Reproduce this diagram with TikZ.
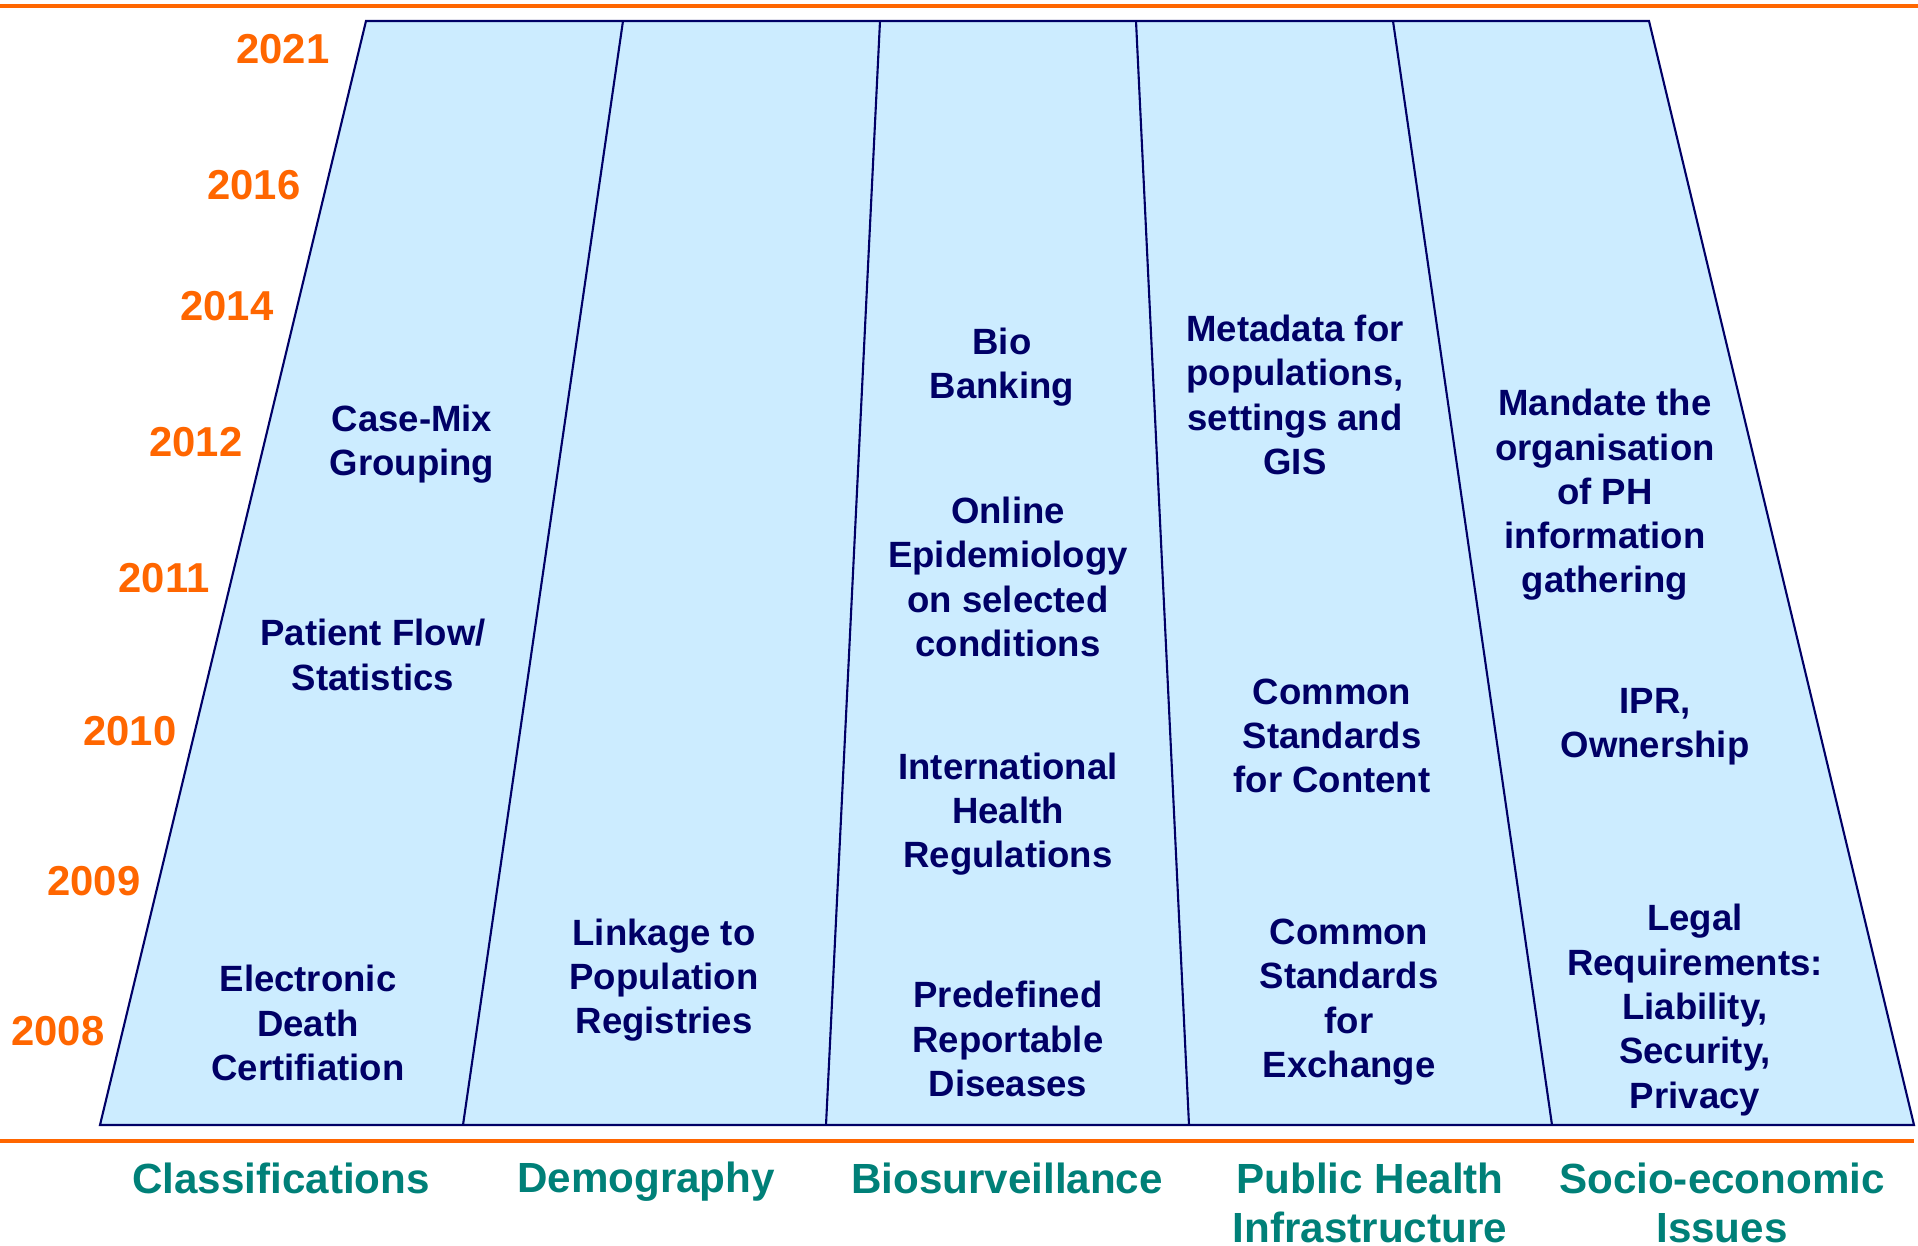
\documentclass[tikz,border=0pt]{standalone}
\usepackage{fontspec}
\setmainfont{Liberation Sans}
\usepackage{tikz}
\usetikzlibrary{positioning}

\definecolor{lane}{RGB}{204,236,255}
\definecolor{navy}{RGB}{0,0,102}
\definecolor{year}{RGB}{255,102,0}
\definecolor{field}{RGB}{0,128,120}

\tikzstyle{item} = [text=navy, align=center, inner sep=0pt, font=\bfseries\fontsize{10.4}{12.6}\selectfont]
\tikzstyle{yearlabel} = [text=year, anchor=east, inner sep=0pt, font=\bfseries\fontsize{11.9}{14}\selectfont]
\tikzstyle{fieldlabel} = [text=field, align=center, inner sep=0pt, font=\bfseries\fontsize{12}{13.9}\selectfont]
\tikzstyle{rule} = [year, line width=1.1pt]
\tikzstyle{border} = [navy, line width=0.6pt]

\begin{document}
\begin{tikzpicture}[x=0.1mm, y=-0.1mm]
    \useasboundingbox (0,0) rectangle (1918,1246);

    % corners of the lanes
    \coordinate (t0) at (366,21);   \coordinate (b0) at (100,1125);
    \coordinate (t1) at (623,21);   \coordinate (b1) at (463,1125);
    \coordinate (t2) at (880,21);   \coordinate (b2) at (826,1125);
    \coordinate (t3) at (1136,21);  \coordinate (b3) at (1189,1125);
    \coordinate (t4) at (1393,21);  \coordinate (b4) at (1552,1125);
    \coordinate (t5) at (1649,21);  \coordinate (b5) at (1914,1125);

    % orange rules
    \draw[rule] (0,6) -- (1918,6);
    \draw[rule] (0,1141) -- (1914,1141);

    % lanes
    \fill[lane] (t0) -- (t5) -- (b5) -- (b0) -- cycle;
    \draw[border] (t0) -- (t5) -- (b5) -- (b0) -- cycle;
    \draw[border] (t1) -- (b1);
    \draw[border] (t2) -- (b2);
    \draw[border] (t3) -- (b3);
    \draw[border] (t4) -- (b4);

    % years
    \node (y21) [yearlabel] at (330,49) {2021};
    \node (y16) [yearlabel] at (301,185) {2016};
    \node (y14) [yearlabel] at (274,306) {2014};
    \node (y12) [yearlabel] at (243,442) {2012};
    \node (y11) [yearlabel] at (210,578) {2011};
    \node (y10) [yearlabel] at (177,731) {2010};
    \node (y09) [yearlabel] at (141,881) {2009};
    \node (y08) [yearlabel] at (105,1031) {2008};

    % classifications
    \node (CM) [item] at (412,444) {Case-Mix\\Grouping};
    \node (PF) [item] at (373,655) {Patient Flow/\\Statistics};
    \node (EDC) [item] at (308,1023) {Electronic\\Death\\Certifiation};

    % demography
    \node (LPR) [item] at (664,980) {Linkage to\\Population\\Registries};

    % biosurveillance
    \node (BB) [item] at (1002,367) {Bio\\Banking};
    \node (OE) [item] at (1008,577) {Online\\Epidemiology\\on selected\\conditions};
    \node (IHR) [item] at (1008,814) {International\\Health\\Regulations};
    \node (PRD) [item] at (1008,1039) {Predefined\\Reportable\\Diseases};

    % public health infrastructure
    \node (MD) [item] at (1295,395) {Metadata for\\populations,\\settings and\\GIS};
    \node (CSC) [item] at (1332,736) {Common\\Standards\\for Content};
    \node (CSE) [item] at (1349,1002) {Common\\Standards\\for\\Exchange};

    % socio-economic issues
    \node (MO) [item] at (1605,495) {Mandate the\\organisation\\of PH\\information\\gathering};
    \node (IPR) [item] at (1655,727) {IPR,\\Ownership};
    \node (LR) [item] at (1695,1010) {Legal\\Requirements:\\Liability,\\Security,\\Privacy};

    % fields under the lanes
    \node (Cl) [fieldlabel] at (281,1178) {Classifications};
    \node (De) [fieldlabel] at (646,1182) {Demography};
    \node (Bs) [fieldlabel] at (1007,1178) {Biosurveillance};
    \node (PH) [fieldlabel] at (1370,1203) {Public Health\\Infrastructure};
    \node (SE) [fieldlabel] at (1722,1203) {Socio-economic\\Issues};

\end{tikzpicture}
\end{document}
